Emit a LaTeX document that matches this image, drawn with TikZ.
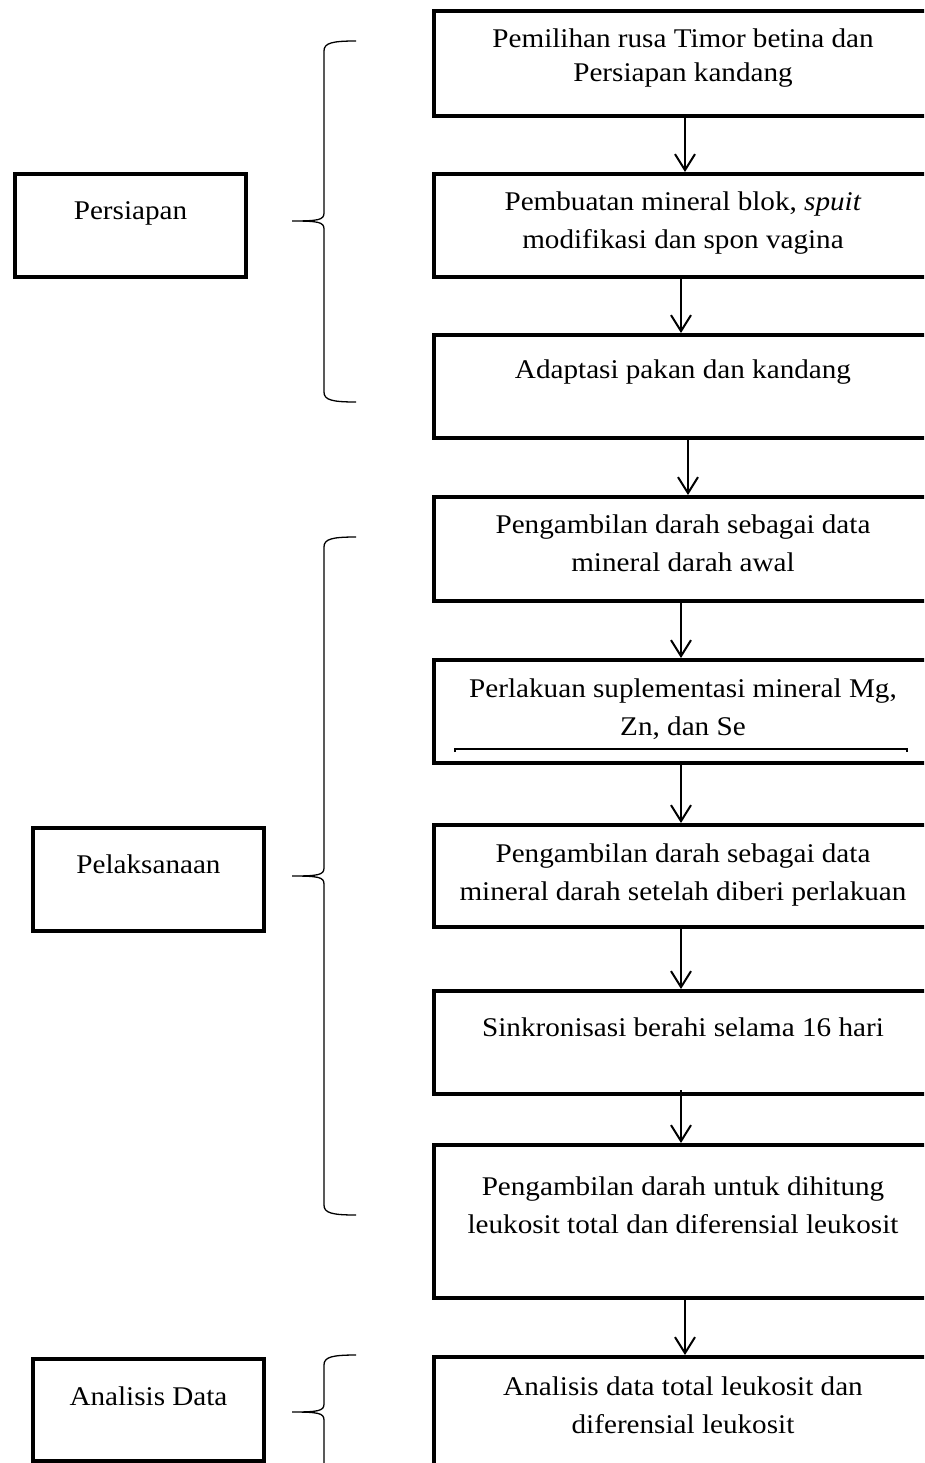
\documentclass[tikz,border=0pt]{standalone}
\usepackage{fontspec}
\setmainfont{Liberation Serif}[FakeStretch=1.08]
\usetikzlibrary{arrows.meta}
\newcommand{\groupbrace}[3]{%
	% top end, tip, bottom end
	\draw[line width=1.3pt] (356,#1)
	.. controls (332,#1) and (324,#1+2) .. (324,#1+10)
	-- (324,#2-8)
	.. controls (324,#2-1) and (318,#2) .. (292,#2)
	.. controls (318,#2) and (324,#2+1) .. (324,#2+8)
	-- (324,#3-10)
	.. controls (324,#3-2) and (332,#3) .. (356,#3);
}
\tikzset{
	stage/.style={draw, line width=4pt, rectangle, align=center,
		inner xsep=4pt, inner ysep=0pt, anchor=base,
		font=\fontsize{27}{38}\selectfont},
	stepbox/.style={stage, minimum width=498},
	phase/.style={stage, minimum width=231},
	gap/.style 2 args={text height=#1pt, text depth=#2pt},
	flow/.style={line width=2pt, -{Straight Barb[length=16pt,width=20pt]}}
}

\begin{document}
\begin{tikzpicture}[x=1pt, y=-1pt]
	\useasboundingbox (0,0) rectangle (924,1463);
	\clip (0,0) rectangle (924,1463);
	% steps (placed at the baseline of the last line)
	\node[stepbox, gap={71}{34}] (b1) at (683,82)
	{Pemilihan rusa Timor betina dan\\[-4pt]Persiapan kandang};
	\node[stepbox, gap={74}{29}] (b2) at (683,248)
	{Pembuatan mineral blok, \textit{spuit}\\modifikasi dan spon vagina};
	\node[stepbox, gap={43}{60}] (b3) at (683,378)
	{Adaptasi pakan dan kandang};
	\node[stepbox, gap={74}{30}] (b4) at (683,571)
	{Pengambilan darah sebagai data\\mineral darah awal};
	\node[stepbox, gap={75}{28}] (b5) at (683,735)
	{Perlakuan suplementasi mineral Mg,\\Zn, dan Se};
	\node[stepbox, gap={75}{27}] (b6) at (683,900)
	{Pengambilan darah sebagai data\\mineral darah setelah diberi perlakuan};
	\node[stepbox, gap={45}{58}] (b7) at (683,1036)
	{Sinkronisasi berahi selama 16 hari};
	\node[stepbox, gap={88}{65}] (b8) at (683,1233)
	{Pengambilan darah untuk dihitung\\leukosit total dan diferensial leukosit};
	\node[stepbox, gap={76}{87}] (b9) at (683,1433)
	{Analisis data total leukosit dan\\diferensial leukosit};
	% phases
	\node[phase, gap={46}{57}] (persiapan) at (130.5,220) {Persiapan};
	\node[phase, gap={45}{58}] (pelaksanaan) at (148.5,873) {Pelaksanaan};
	\node[phase, gap={46}{56}] (analisis) at (148.5,1405) {Analisis Data};
	% rule under Zn, dan Se
	\draw[line width=2pt] (455,752) -- (455,749) -- (907,749) -- (907,752);
	% arrows
	\draw[flow] ([xshift=2pt]b1.south) -- ([xshift=2pt]b2.north);
	\draw[flow] ([xshift=-2pt]b2.south) -- ([xshift=-2pt]b3.north);
	\draw[flow] ([xshift=5pt]b3.south) -- ([xshift=5pt]b4.north);
	\draw[flow] ([xshift=-2pt]b4.south) -- ([xshift=-2pt]b5.north);
	\draw[flow] ([xshift=-2pt]b5.south) -- ([xshift=-2pt]b6.north);
	\draw[flow] ([xshift=-2pt]b6.south) -- ([xshift=-2pt]b7.north);
	\draw[flow] ([xshift=-2pt,yshift=6pt]b7.south) -- ([xshift=-2pt]b8.north);
	\draw[flow] ([xshift=2pt]b8.south) -- ([xshift=2pt]b9.north);
	% braces
	\groupbrace{41}{221}{402}
	\groupbrace{537}{876}{1215}
	\groupbrace{1355}{1412}{1530}
\end{tikzpicture}
\end{document}
